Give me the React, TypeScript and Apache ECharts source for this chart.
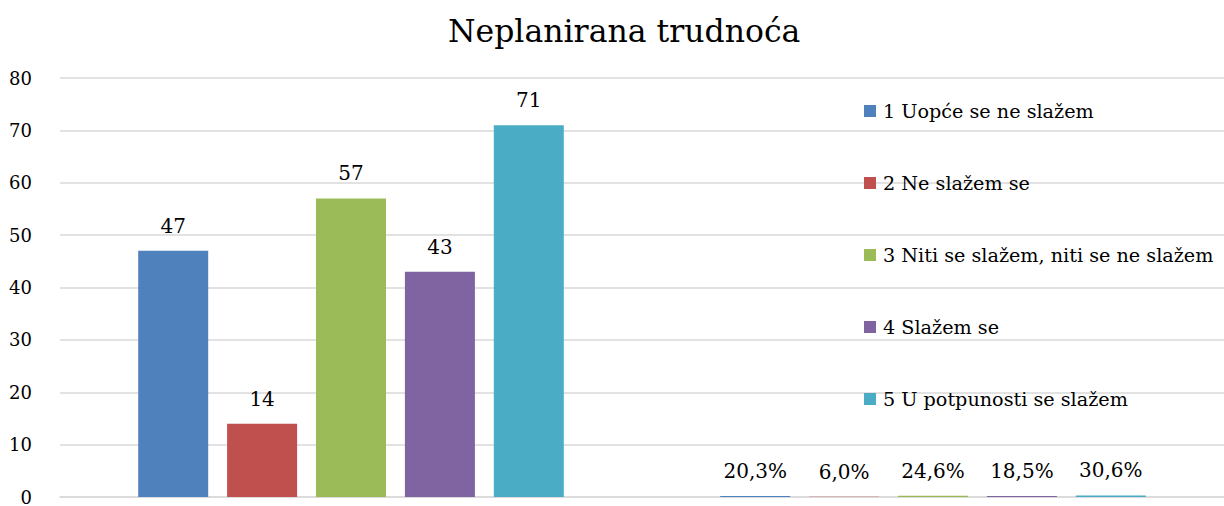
import React, { useEffect, useRef } from "react";
import * as echarts from "echarts";

const categories = ["Broj", "Postotak"];
const seriesNames = [
  "1 Uopće se ne slažem",
  "2 Ne slažem se",
  "3 Niti se slažem, niti se ne slažem",
  "4 Slažem se",
  "5 U potpunosti se slažem",
];
const counts = [47, 14, 57, 43, 71];
const shares = [0.203, 0.06, 0.246, 0.185, 0.306];
const colors = ["#4F81BD", "#C0504D", "#9BBB59", "#8064A2", "#4BACC6"];
const yTicks = { min: 0, max: 80, interval: 10 };

const FONT = "DejaVu Serif";

export default function App() {
  const ref = useRef<HTMLDivElement>(null);
  useEffect(() => {
    if (!ref.current) return;
    const chart = echarts.init(ref.current, undefined, { renderer: "svg" });
    chart.setOption({
      animation: false,
      backgroundColor: "#ffffff",
      title: {
        text: "Neplanirana trudnoća",
        left: 448,
        top: 15,
        padding: 0,
        textStyle: { fontFamily: FONT, fontSize: 31.5, fontWeight: "normal", color: "#000" },
      },
      legend: {
        orient: "vertical",
        left: 864,
        top: 101,
        padding: 0,
        itemWidth: 12,
        itemHeight: 12,
        itemGap: 52,
        icon: "rect",
        data: seriesNames,
        textStyle: { fontFamily: FONT, fontSize: 19.2, color: "#000", lineHeight: 20, padding: [0, 0, 0, 2] },
      },
      grid: { left: 60, right: 0, top: 78, bottom: 7, containLabel: false },
      xAxis: {
        type: "category",
        data: categories,
        axisLabel: { show: false },
        axisTick: { show: false },
        axisLine: { lineStyle: { color: "#d9d9d9", width: 1.5 } },
      },
      yAxis: {
        type: "value",
        min: yTicks.min,
        max: yTicks.max,
        interval: yTicks.interval,
        axisLabel: { fontFamily: FONT, fontSize: 18, color: "#000", margin: 28 },
        axisLine: { show: false },
        axisTick: { show: false },
        splitLine: { lineStyle: { color: "#d9d9d9", width: 1.5 } },
      },
      series: seriesNames.map((name, i) => ({
        name,
        type: "bar",
        barWidth: 70,
        barGap: "27%",
        itemStyle: { color: colors[i] },
        data: [counts[i], shares[i]],
        label: {
          show: true,
          position: "top",
          distance: 15,
          fontFamily: FONT,
          fontSize: 20,
          color: "#000",
          formatter: (p: any) =>
            p.dataIndex === 1
              ? (p.value * 100).toFixed(1).replace(".", ",") + "%"
              : String(p.value),
        },
      })),
    });
    return () => chart.dispose();
  }, []);
  return (
    <div
      ref={ref}
      style={{ position: "absolute", left: 0, top: 0, width: 1224, height: 506 }}
    />
  );
}
